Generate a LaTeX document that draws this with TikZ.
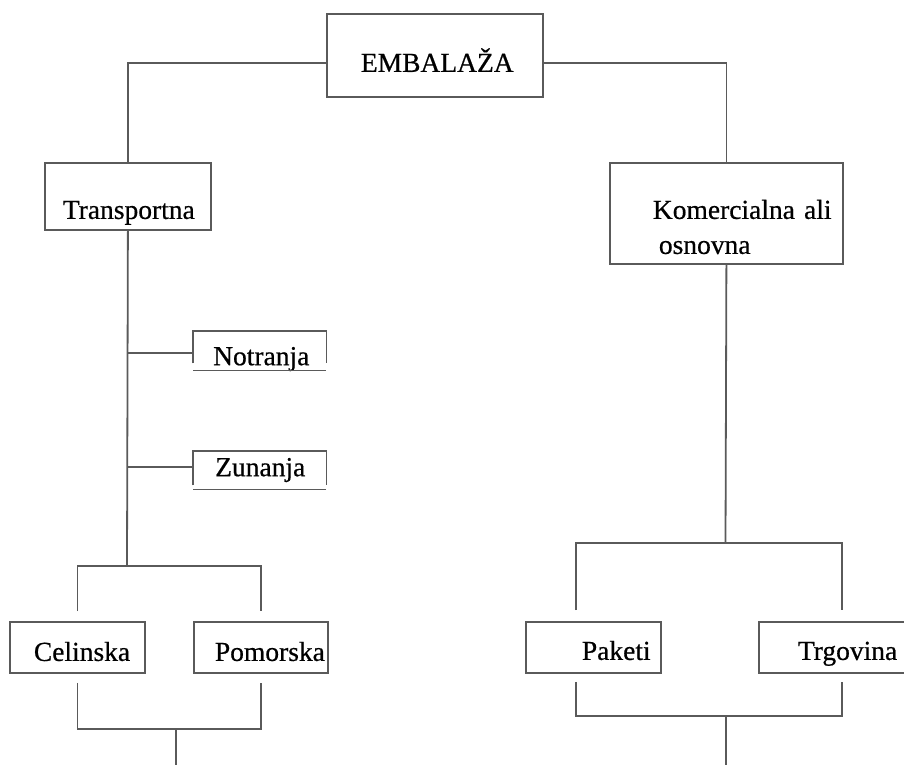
\documentclass[tikz,border=0pt]{standalone}
\usepackage{fontspec}
\setmainfont{Liberation Serif}[FakeBold=0.6]
\usepackage{tikz}
\usetikzlibrary{calc}
\definecolor{wiregray}{RGB}{90,90,90}
\tikzset{
    wire/.style={draw=wiregray, line width=1.8pt},
    box/.style={wire, inner sep=0pt, anchor=north west, align=left},
    openbox/.style={inner sep=0pt, anchor=north west, align=left}
}

\begin{document}
\begin{tikzpicture}[x=1pt, y=1pt, font=\fontsize{27.5}{35}\selectfont]
    \useasboundingbox (0,0) rectangle (904,-764);
    \node[box, text width=216pt, text height=58pt, text depth=25pt] (emb) at (326,-13) {\hspace*{34pt}EMBALAŽA};
    \node[box, text width=166pt, text height=56pt, text depth=11pt] (tra) at (44,-162) {\hspace*{18pt}Transportna};
    \node[box, text width=233pt, text height=56pt, text depth=45pt] (kom) at (609,-162) {\hspace*{43pt}Komercialna ali\\\hspace*{49pt}osnovna};
    \node[openbox, text width=133pt, text height=34pt, text depth=5pt] (not) at (193,-331) {\hspace*{20pt}Notranja};
    \node[openbox, text width=133pt, text height=25pt, text depth=13pt] (zun) at (193,-451) {\hspace*{22pt}Zunanja};
    \node[box, text width=135pt, text height=39pt, text depth=12pt] (cel) at (9,-621) {\hspace*{24pt}Celinska};
    \node[box, text width=134pt, text height=39pt, text depth=12pt] (pom) at (193,-621) {\hspace*{21pt}Pomorska};
    \node[box, text width=135pt, text height=38pt, text depth=13pt] (pak) at (525,-621) {\hspace*{56pt}Paketi};
    \node[box, text width=154pt, text height=38pt, text depth=13pt] (trg) at (758,-621) {\hspace*{39pt}Trgovina};

    \draw[wire] ([yshift=7pt]not.south west) |- (not.north east) -- ([yshift=7pt]not.south east);
    \draw[wire] (not.south west) -- (not.south east);
    \draw[wire] ([yshift=4pt]zun.south west) |- (zun.north east) -- ([yshift=4pt]zun.south east);
    \draw[wire] (zun.south west) -- (zun.south east);

    \coordinate (tsplit) at (127,-566);
    \coordinate (tjoin) at (176,-729);
    \coordinate (tend) at (176,-770);
    \coordinate (ksplit) at (725.5,-543);
    \coordinate (kl) at (576,-543);
    \coordinate (kr) at (842,-543);
    \coordinate (kjl) at (576,-716);
    \coordinate (kjr) at (842,-716);
    \coordinate (kjoin) at (726,-716);
    \coordinate (kend) at (726,-770);

    \draw[wire] ([yshift=-7.5pt]emb.west) -| (tra.north);
    \draw[wire] ([yshift=-7.5pt]emb.east) -| (kom.north);
    \draw[wire] (tra.south) -- (tsplit);
    \draw[wire] ([yshift=-2.5pt]not.west) -- ([yshift=-2.5pt]not.west -| tsplit);
    \draw[wire] ([yshift=3pt]zun.west) -- ([yshift=3pt]zun.west -| tsplit);
    \draw[wire] ([yshift=10pt]cel.north) |- (tsplit) -| ([yshift=10pt]pom.north);
    \draw[wire] ([yshift=-9pt]cel.south) |- (tjoin) -| ([yshift=-9pt]pom.south);
    \draw[wire] (tjoin) -- (tend);
    \draw[wire] (kom.south) -- (ksplit);
    \draw[wire] ([yshift=11pt]pak.north -| kl) |- (kr) -- ([yshift=11pt]trg.north -| kr);
    \draw[wire] ([yshift=-8pt]pak.south -| kl) -- (kjl) -- (kjr) -- ([yshift=-8pt]trg.south -| kr);
    \draw[wire] (kjoin) -- (kend);
\end{tikzpicture}
\end{document}
